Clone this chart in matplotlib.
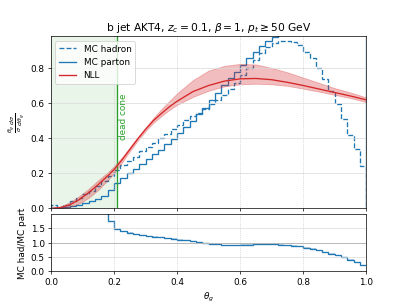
import numpy as np
import matplotlib
matplotlib.use("Agg")
import matplotlib.pyplot as plt
from matplotlib import gridspec

# binned MC distributions, 50 bins of width 0.02 on [0, 1]
bin_edges = np.linspace(0.0, 1.0, 51)
mc_hadron = [0.02, 0.01, 0.02, 0.04, 0.06, 0.08, 0.10, 0.125, 0.155, 0.185,
             0.216, 0.247, 0.27, 0.295, 0.324, 0.347, 0.375, 0.399, 0.423, 0.45,
             0.477, 0.502, 0.525, 0.546, 0.564, 0.595, 0.62, 0.645, 0.68, 0.715,
             0.758, 0.80, 0.845, 0.885, 0.92, 0.94, 0.955, 0.955, 0.945, 0.93,
             0.89, 0.855, 0.80, 0.737, 0.67, 0.594, 0.51, 0.42, 0.337, 0.24]
mc_parton = [0.002, 0.003, 0.006, 0.012, 0.02, 0.03, 0.042, 0.055, 0.07, 0.105,
             0.145, 0.175, 0.20, 0.225, 0.255, 0.28, 0.31, 0.335, 0.365, 0.395,
             0.43, 0.465, 0.50, 0.535, 0.57, 0.62, 0.66, 0.70, 0.74, 0.775,
             0.815, 0.855, 0.89, 0.925, 0.955, 0.975, 1.027, 1.038, 1.05, 1.069,
             1.072, 1.082, 1.081, 1.084, 1.081, 1.061, 1.04, 1.024, 1.053, 1.143]

# NLL prediction with its uncertainty band
nll_x = [0.0, 0.03, 0.06, 0.09, 0.12, 0.15, 0.18, 0.2, 0.225, 0.25, 0.275, 0.3,
         0.325, 0.35, 0.375, 0.4, 0.45, 0.5, 0.55, 0.6, 0.65, 0.7, 0.75, 0.8,
         0.85, 0.9, 0.95, 1.0]
nll_central = [0.0, 0.004, 0.02, 0.05, 0.09, 0.135, 0.185, 0.22, 0.275, 0.335,
               0.395, 0.45, 0.50, 0.54, 0.578, 0.61, 0.665, 0.70, 0.725, 0.738,
               0.74, 0.733, 0.718, 0.70, 0.68, 0.66, 0.64, 0.618]
nll_upper = [0.0, 0.01, 0.035, 0.07, 0.112, 0.16, 0.205, 0.24, 0.29, 0.347,
             0.405, 0.46, 0.515, 0.565, 0.61, 0.655, 0.73, 0.785, 0.812, 0.823,
             0.82, 0.80, 0.775, 0.745, 0.715, 0.685, 0.66, 0.632]
nll_lower = [0.0, 0.0, 0.008, 0.028, 0.06, 0.105, 0.16, 0.20, 0.26, 0.325,
             0.385, 0.44, 0.488, 0.525, 0.56, 0.59, 0.635, 0.67, 0.695, 0.707,
             0.71, 0.707, 0.698, 0.682, 0.665, 0.647, 0.628, 0.605]

theta_dead_cone = 0.209

mc_hadron = np.array(mc_hadron)
mc_parton = np.array(mc_parton)
ratio = mc_hadron / mc_parton

fig = plt.figure(figsize=(6.4, 4.8), dpi=63.6)
gs = gridspec.GridSpec(2, 1, height_ratios=[3, 1], hspace=0.05)
ax = fig.add_subplot(gs[0])
ax2 = fig.add_subplot(gs[1], sharex=ax)

ax.axvspan(0, theta_dead_cone, color="tab:green", alpha=0.1, lw=0)
ax.axvline(theta_dead_cone, color="tab:green")
ax.text(theta_dead_cone + 0.008, 0.655, "dead cone", color="tab:green",
        rotation=90, ha="left", va="top")

ax.stairs(mc_hadron, bin_edges, color="tab:blue", ls="--", lw=1.5, label="MC hadron")
ax.stairs(mc_parton, bin_edges, color="tab:blue", lw=1.5, label="MC parton")
ax.fill_between(nll_x, nll_lower, nll_upper, color="tab:red", alpha=0.3)
ax.plot(nll_x, nll_central, color="tab:red", lw=1.5, label="NLL")

ax.set_xlim(0, 1)
ax.set_ylim(0, 0.98)
ax.set_yticks([0.0, 0.2, 0.4, 0.6, 0.8])
ax.grid(axis="y", color="0.85")
ax.grid(axis="x", color="0.75", ls=":")
ax.tick_params(labelbottom=False)
ax.set_ylabel(r"$\frac{\theta_g}{\sigma}\frac{d\sigma}{d\theta_g}$")
ax.set_title(r"b jet AKT4, $z_c = 0.1$, $\beta = 1$, $p_t \geq 50$ GeV")
ax.legend(loc="upper left")

ax2.fill_between(bin_edges, np.append(ratio, ratio[-1]) - 0.03,
                 np.append(ratio, ratio[-1]) + 0.01, step="post",
                 color="tab:blue", alpha=0.3, lw=0)
ax2.stairs(ratio, bin_edges, color="tab:blue", lw=1.5, baseline=None)
ax2.set_ylim(0, 2)
ax2.set_yticks([0.0, 0.5, 1.0, 1.5])
ax2.grid(axis="y", color="0.85")
ax2.grid(axis="x", color="0.75", ls=":")
ax2.axhline(1.0, color="0.7", lw=1)
ax2.set_xlabel(r"$\theta_g$")
ax2.set_ylabel("MC had/MC part")

fig.savefig("out.png", dpi=63.6)
